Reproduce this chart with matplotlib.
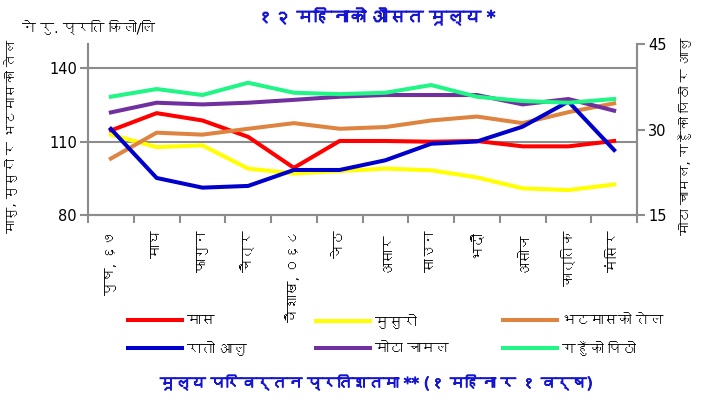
import matplotlib
matplotlib.use('Agg')
import matplotlib.pyplot as plt
import matplotlib.patheffects as pe
from matplotlib import font_manager
from matplotlib.ft2font import FT2Font
import numpy as np

# find a font that has Devanagari glyphs
deva = None
for f in font_manager.fontManager.ttflist:
    try:
        if 0x0915 in FT2Font(f.fname).get_charmap():
            deva = f.name
            break
    except Exception:
        pass
families = ['DejaVu Sans', deva] if deva else ['DejaVu Sans']
plt.rcParams['font.family'] = families

months = ['पुष, ६७', 'माघ', 'फागुन', 'चैत्र', 'वैशाख, ०६८', 'जेठ', 'असार',
          'साउन', 'भदौ', 'असोज', 'कात्तिक', 'मंसिर']
# left axis (ने रु.)
mas = [114.6, 121.7, 118.7, 112.0, 99.3, 110.3, 110.3, 110.0, 110.3, 108.1, 108.1, 110.3]
musuro = [112.9, 107.8, 108.5, 99.0, 97.0, 98.0, 99.0, 98.3, 95.4, 90.9, 90.2, 92.5]
oil = [103.1, 113.7, 112.9, 115.3, 117.6, 115.3, 116.0, 118.7, 120.3, 117.6, 122.1, 125.7]
# right axis
alu = [30.1, 21.5, 19.8, 20.1, 22.9, 22.9, 24.6, 27.5, 27.9, 30.5, 34.9, 26.4]
chamal = [33.0, 34.7, 34.4, 34.7, 35.2, 35.75, 36.05, 36.05, 36.05, 34.4, 35.35, 33.3]
pitho = [35.75, 37.1, 36.05, 38.2, 36.45, 36.2, 36.45, 37.8, 35.75, 35.0, 34.7, 35.35]

c_red = '#FF0000'
c_yellow = '#FFFF00'
c_orange = '#DE8440'
c_blue = '#0000CC'
c_purple = '#7030A0'
c_green = '#20F585'
c_axis = '#8C8C8C'
c_title = '#1414D2'

fig = plt.figure(figsize=(7.09, 4.0), dpi=100)
ax = fig.add_axes([88/709, 1-215/400, 549/709, 171/400])
ax2 = ax.twinx()

x = np.arange(len(months))
lw = 2.9
l_mas, = ax.plot(x, mas, color=c_red, lw=lw, label='मास')
l_mus, = ax.plot(x, musuro, color=c_yellow, lw=lw, label='मुसुरो')
l_oil, = ax.plot(x, oil, color=c_orange, lw=lw, label='भटमासको तेल')
l_alu, = ax2.plot(x, alu, color=c_blue, lw=lw, label='रातो आलु')
l_cha, = ax2.plot(x, chamal, color=c_purple, lw=lw, label='मोटा चामल')
l_pit, = ax2.plot(x, pitho, color=c_green, lw=lw, label='गहुँको पिठो')

ax.set_xlim(-0.5, len(months)-0.5)
ax.set_ylim(80, 150)
ax.set_yticks([80, 110, 140])
ax2.set_ylim(15, 45)
ax2.set_yticks([15, 30, 45])
for v in [110, 140]:
    ax.axhline(v, color=c_axis, lw=1.5, zorder=0)

ax.set_xticks(x)
ax.set_xticklabels(months, rotation=90, fontsize=10, va='top')
ax.set_xticks(np.arange(-0.5, len(months)), minor=True)
ax.tick_params(axis='x', which='major', length=0, pad=11)
ax.tick_params(axis='x', which='minor', length=6, width=1.5, color=c_axis, direction='out')
ax.tick_params(axis='y', length=6, width=1.5, color=c_axis, labelsize=10.5, pad=2)
ax2.tick_params(axis='y', length=6, width=1.5, color=c_axis, labelsize=10.5, pad=2)

for a in (ax, ax2):
    a.spines['top'].set_visible(False)
    for s in ('left', 'right', 'bottom'):
        a.spines[s].set_color(c_axis)
        a.spines[s].set_linewidth(1.5)

fig.text(12/709, 1-136/400, 'मासु, मुसुरो र भटमासको तेल', rotation=90,
         ha='center', va='center', fontsize=9.5)
fig.text(686/709, 1-136/400, 'मोटा चामल, गहुँको पिठो र आलु', rotation=90,
         ha='center', va='center', fontsize=9.5)
fig.text(22/709, 1-28/400, 'ने रु. प्रति किलो/लि', ha='left', va='center', fontsize=10)
bold = [pe.withStroke(linewidth=0.7, foreground=c_title)]
fig.text(376/709, 1-18/400, '१२ महिनाको औसत मूल्य *', ha='center', va='center',
         fontsize=12.5, color=c_title, path_effects=bold)
fig.text(376/709, 1-383/400, 'मूल्य परिवर्तन प्रतिशतमा ** (१ महिना र १ वर्ष)',
         ha='center', va='center', fontsize=11, color=c_title, path_effects=bold)

# one legend per column
cols = [(l_mas, l_alu), (l_mus, l_cha), (l_oil, l_pit)]
col_x = [128, 316, 503]
for hs, cx in zip(cols, col_x):
    fig.legend(hs, [h.get_label() for h in hs], ncol=1, frameon=False,
               loc='upper left', bbox_to_anchor=(cx/709, 1-314/400), fontsize=10,
               handlelength=3.9, labelspacing=0.95, handletextpad=0.35,
               borderpad=0, borderaxespad=0)

fig.savefig('out.png', dpi=100)
